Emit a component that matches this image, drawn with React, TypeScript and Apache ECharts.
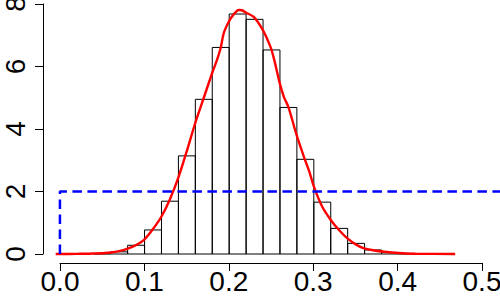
import React, { useEffect, useRef } from "react";
import * as echarts from "echarts";

const BIN_WIDTH = 0.02;
const binStarts = [0.04, 0.06, 0.08, 0.10, 0.12, 0.14, 0.16, 0.18, 0.20, 0.22, 0.24, 0.26, 0.28, 0.30, 0.32, 0.34, 0.36, 0.38, 0.40];
const densities = [0.01, 0.07, 0.28, 0.77, 1.69, 3.14, 4.95, 6.61, 7.68, 7.51, 6.53, 4.69, 3.03, 1.66, 0.82, 0.34, 0.13, 0.05, 0.01];

const curveX = [-0.005, 0.02, 0.04, 0.06, 0.07, 0.08, 0.09, 0.10, 0.11, 0.12, 0.13, 0.14, 0.15, 0.16, 0.17, 0.18, 0.1856, 0.19, 0.1935, 0.1995, 0.205, 0.2113, 0.215, 0.22, 0.229, 0.2397, 0.2488, 0.2528, 0.2598, 0.2646, 0.27, 0.2796, 0.2883, 0.2945, 0.3002, 0.31, 0.32, 0.33, 0.3397, 0.35, 0.3594, 0.37, 0.383, 0.40, 0.42, 0.467];
const curveY = [0, 0.005, 0.015, 0.05, 0.09, 0.17, 0.29, 0.47, 0.8, 1.2, 1.75, 2.45, 3.3, 4.2, 5.0, 5.8, 6.21, 6.6, 7.06, 7.43, 7.66, 7.81, 7.8, 7.72, 7.59, 7.17, 6.63, 6.26, 5.46, 5.03, 4.7, 3.81, 3.11, 2.65, 2.15, 1.51, 1.09, 0.76, 0.5, 0.3, 0.18, 0.12, 0.07, 0.03, 0.01, 0];

const uniformX = [0, 0, 0.6];
const uniformY = [0, 2, 2];

const xTicks = [0, 0.1, 0.2, 0.3, 0.4, 0.5];
const yTicks = [0, 2, 4, 6, 8];

const FONT = "Liberation Sans, Arial, sans-serif";

export default function App() {
  const ref = useRef<HTMLDivElement>(null);
  useEffect(() => {
    if (!ref.current) return;
    const chart = echarts.init(ref.current, null, { renderer: "svg" });
    const axisText = { color: "#000", fontSize: 28, fontFamily: FONT };
    const option: any = {
      animation: false,
      backgroundColor: "#fff",
      grid: [
        { left: 43, top: 0, width: 457, height: 264, outerBoundsMode: "none", containLabel: false },
        { left: 60, top: 200, width: 422, height: 63, outerBoundsMode: "none", containLabel: false },
        { left: 43, top: 4, width: 10, height: 250, outerBoundsMode: "none", containLabel: false },
      ],
      xAxis: [
        { type: "value", gridIndex: 0, min: -0.02, max: 0.52, show: false },
        {
          type: "value",
          gridIndex: 1,
          min: xTicks[0],
          max: xTicks[xTicks.length - 1],
          interval: 0.1,
          axisLine: { show: true, lineStyle: { color: "#000", width: 1 } },
          axisTick: { show: true, length: 8, lineStyle: { color: "#000", width: 1 } },
          axisLabel: { ...axisText, margin: 4, formatter: (v: number) => v.toFixed(1) },
          splitLine: { show: false },
        },
        { type: "value", gridIndex: 2, show: false },
      ],
      yAxis: [
        { type: "value", gridIndex: 0, min: -0.32, max: 8.128, show: false },
        { type: "value", gridIndex: 1, show: false },
        {
          type: "value",
          gridIndex: 2,
          min: yTicks[0],
          max: yTicks[yTicks.length - 1],
          interval: 2,
          axisLine: { show: true, lineStyle: { color: "#000", width: 1 } },
          axisTick: { show: true, length: 8, lineStyle: { color: "#000", width: 1 } },
          axisLabel: { ...axisText, rotate: 90, margin: 14, formatter: (v: number) => String(v) },
          splitLine: { show: false },
        },
      ],
      series: [
        {
          type: "custom",
          xAxisIndex: 0,
          yAxisIndex: 0,
          data: binStarts.map((b, i) => [b, densities[i]]),
          renderItem: (params: any, api: any) => {
            const x0 = api.value(0);
            const h = api.value(1);
            const p0 = api.coord([x0, h]);
            const p1 = api.coord([x0 + BIN_WIDTH, 0]);
            return {
              type: "rect",
              shape: { x: p0[0], y: p0[1], width: p1[0] - p0[0], height: p1[1] - p0[1] },
              style: { fill: "none", stroke: "#000", lineWidth: 1 },
            };
          },
          silent: true,
        },
        {
          type: "line",
          xAxisIndex: 0,
          yAxisIndex: 0,
          data: curveX.map((x, i) => [x, curveY[i]]),
          smooth: 0.3,
          symbol: "none",
          lineStyle: { color: "#ff0000", width: 2.4 },
          silent: true,
        },
        {
          type: "line",
          xAxisIndex: 0,
          yAxisIndex: 0,
          data: uniformX.map((x, i) => [x, uniformY[i]]),
          symbol: "none",
          lineStyle: { color: "#0000ff", width: 2.5, type: [9.5, 5.5] },
          silent: true,
        },
      ],
    };
    chart.setOption(option);
    return () => chart.dispose();
  }, []);
  return (
    <div
      ref={ref}
      style={{ position: "fixed", left: 0, top: 0, width: 500, height: 300, background: "#fff" }}
    />
  );
}
